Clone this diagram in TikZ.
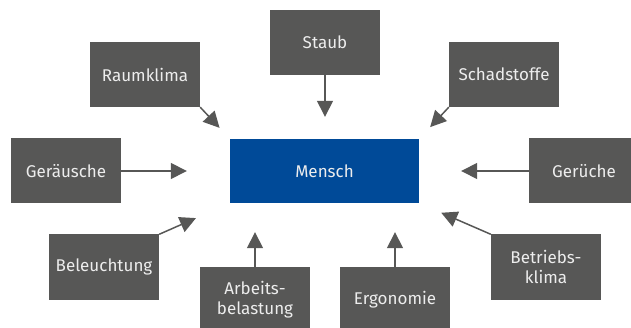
\documentclass[tikz,border=0pt]{standalone}
\usepackage{fontspec}
\setmainfont{Fira Sans}
\usetikzlibrary{arrows.meta}

\definecolor{boxgray}{HTML}{575756}
\definecolor{menschblue}{HTML}{004A98}
\definecolor{boxtext}{HTML}{EDEDED}

\tikzset{x=1pt, y=-1pt,
  factor/.style={fill=boxgray, text=boxtext, inner sep=0pt, minimum width=110pt,
    minimum height=65pt, align=center, font=\fontsize{17}{20}\selectfont},
  center/.style={factor, fill=menschblue, minimum width=189pt, minimum height=64pt},
  influence/.style={draw=boxgray, line width=1.5pt, -{Triangle[length=16pt,width=16pt]}}}

\begin{document}
\begin{tikzpicture}
  \useasboundingbox (0,0) rectangle (631,328);
  \node (M) [center] at (324.5,171) {Mensch};
  \node (Staub) [factor] at (325,42.5) {Staub};
  \node (Raum) [factor] at (145,74.5) {Raumklima};
  \node (Schad) [factor] at (504,74.5) {Schadstoffe};
  \node (Laerm) [factor] at (66,171) {Geräusche};
  \node (Geruch) [factor] at (584,171) {Gerüche};
  \node (Licht) [factor] at (104,267) {Beleuchtung};
  \node (Arb) [factor] at (255,299.5) {Arbeits-\\belastung};
  \node (Ergo) [factor] at (395,299.5) {Ergonomie};
  \node (Betr) [factor] at (546,267) {Betriebs-\\klima};
  \draw[influence, shorten >=22pt] (Staub) -- (Staub |- M.north);
  \draw[influence, shorten >=15pt] (Raum.south east) -- (M.north west);
  \draw[influence, shorten >=16pt] (Schad.south west) -- (M.north east);
  \draw[influence, shorten >=43pt] (Laerm) -- (M);
  \draw[influence, shorten >=42pt] (Geruch) -- (M);
  \draw[influence, shorten >=37pt] (Licht.north east) -- (M.south west);
  \draw[influence, shorten >=29pt] (Arb) -- (Arb |- M.south);
  \draw[influence, shorten >=29pt] (Ergo) -- (Ergo |- M.south);
  \draw[influence, shorten >=24pt] (Betr.north west) -- (M.south east);
\end{tikzpicture}
\end{document}
